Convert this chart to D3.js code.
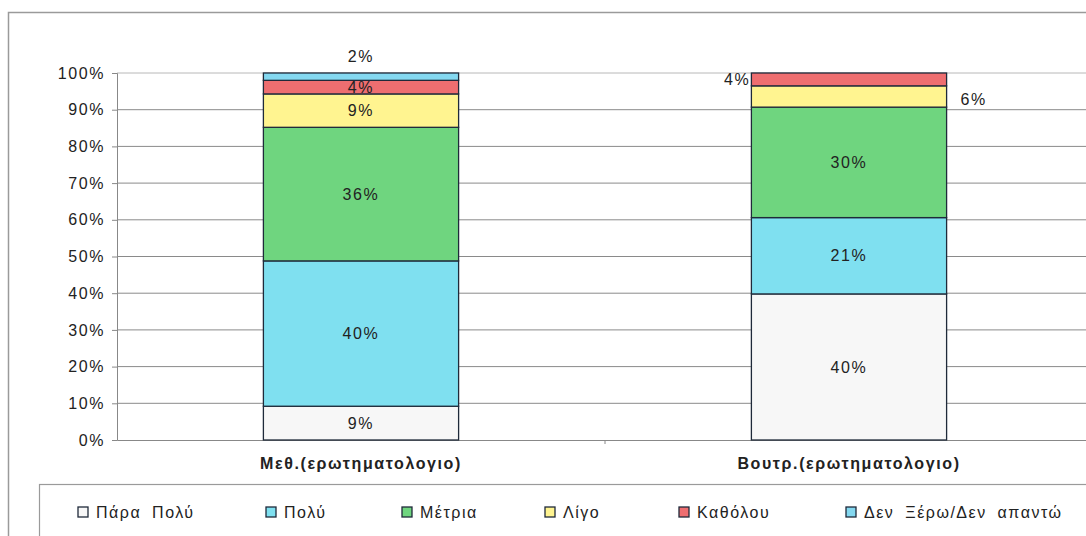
<!DOCTYPE html>
<html>
<head>
<meta charset="utf-8">
<script src="https://cdn.jsdelivr.net/npm/d3@7"></script>
<style>
  body { margin: 0; background: #fff; }
  svg text { font-family: "Liberation Sans", Arial, sans-serif; fill: #222; }
</style>
</head>
<body>
<div id="chart"></div>
<script>
var svgWidth = 1086;
var svgHeight = 536;

// data (share of answers, %)
var categories = ["Μεθ.(ερωτηματολογιο)", "Βουτρ.(ερωτηματολογιο)"];
var seriesNames = ["Πάρα Πολύ", "Πολύ", "Μέτρια", "Λίγο", "Καθόλου", "Δεν Ξέρω/Δεν απαντώ"];
var seriesColors = ["#f7f7f7", "#7fe0f0", "#6fd57f", "#fff490", "#ee6e70", "#84d8f0"];
var metValues = [9.2, 39.6, 36.4, 9.1, 3.7, 2.0];
var voutrValues = [39.8, 20.8, 30.1, 5.8, 3.5, 0];
var yTicks = [0, 10, 20, 30, 40, 50, 60, 70, 80, 90, 100];

var margin = { top: 73, right: -7, bottom: 96, left: 117 };
var width = svgWidth - margin.left - margin.right;
var height = svgHeight - margin.top - margin.bottom;

var svg = d3.select("#chart")
    .append("svg")
    .attr("width", svgWidth)
    .attr("height", svgHeight);

// outer chart frame
svg.append("rect")
    .attr("x", 8.5).attr("y", 12.5)
    .attr("width", 1100).attr("height", 600)
    .attr("fill", "none")
    .attr("stroke", "#9a9a9a")
    .attr("stroke-width", 1.5);

var chartGroup = svg.append("g")
    .attr("transform", `translate(${margin.left}, ${margin.top})`);

var xScale = d3.scaleBand()
    .domain(categories)
    .range([0, width])
    .paddingInner(0.6)
    .paddingOuter(0.3);

var yScale = d3.scaleLinear()
    .domain([0, 100])
    .range([height, 0]);

// gridlines
chartGroup.append("g")
    .selectAll("line")
    .data(yTicks.slice(1))
    .enter()
    .append("line")
    .attr("x1", 0).attr("x2", width)
    .attr("y1", d => yScale(d)).attr("y2", d => yScale(d))
    .attr("stroke", d => d == 100 ? "#b8b8b8" : "#8a8a8a")
    .attr("stroke-width", 1);

// axes
var leftAxis = d3.axisLeft(yScale)
    .tickValues(yTicks)
    .tickFormat(d => d + "%")
    .tickSize(5)
    .tickPadding(7);

var yAxisG = chartGroup.append("g").call(leftAxis);
yAxisG.select(".domain").attr("stroke", "#888");
yAxisG.selectAll(".tick line").attr("stroke", "#888");
yAxisG.selectAll("text")
    .style("font-size", "16px")
    .style("letter-spacing", "1.6px")
    .attr("fill", "#222");

var bottomAxis = d3.axisBottom(xScale).tickSize(0).tickPadding(18);
var xAxisG = chartGroup.append("g")
    .attr("transform", `translate(0, ${height})`)
    .call(bottomAxis);
xAxisG.select(".domain").attr("stroke", "#888");
xAxisG.selectAll("text")
    .style("font-size", "16px")
    .style("font-weight", "bold")
    .style("letter-spacing", "1.6px")
    .attr("fill", "#222");
// middle category separator tick
xAxisG.append("line")
    .attr("x1", width / 2).attr("x2", width / 2)
    .attr("y1", 0).attr("y2", 4)
    .attr("stroke", "#888");

// build stacked segments
var rows = [metValues, voutrValues];
var segments = [];
categories.forEach((cat, ci) => {
    var acc = 0;
    rows[ci].forEach((v, si) => {
        segments.push({ cat: cat, ci: ci, si: si, y0: acc, y1: acc + v, value: v });
        acc += v;
    });
});

chartGroup.selectAll("rect.seg")
    .data(segments.filter(d => d.value > 0))
    .enter()
    .append("rect")
    .attr("class", "seg")
    .attr("x", d => xScale(d.cat))
    .attr("width", xScale.bandwidth())
    .attr("y", d => yScale(d.y1))
    .attr("height", d => yScale(d.y0) - yScale(d.y1))
    .attr("fill", d => seriesColors[d.si])
    .attr("stroke", "#1f2a3a")
    .attr("stroke-width", 1.3);

// value labels
var fmt = v => Math.round(v) + "%";
function labelPos(d) {
    var cx = xScale(d.cat) + xScale.bandwidth() / 2;
    var cy = (yScale(d.y0) + yScale(d.y1)) / 2;
    var anchor = "middle";
    if (d.ci == 0 && d.si == 5) { cy = yScale(100) - 17; }
    if (d.ci == 1 && d.si == 4) { cx = xScale(d.cat) - 1; anchor = "end"; }
    if (d.ci == 1 && d.si == 3) { cx = xScale(d.cat) + xScale.bandwidth() + 14; anchor = "start"; cy += 3; }
    return { x: cx, y: cy, anchor: anchor };
}

chartGroup.selectAll("text.val")
    .data(segments.filter(d => d.value > 0))
    .enter()
    .append("text")
    .attr("class", "val")
    .attr("x", d => labelPos(d).x)
    .attr("y", d => labelPos(d).y)
    .attr("dy", "0.35em")
    .attr("text-anchor", d => labelPos(d).anchor)
    .style("font-size", "16px")
    .style("letter-spacing", "1.6px")
    .text(d => fmt(d.value));

// legend
svg.append("rect")
    .attr("x", 39.5).attr("y", 484.5)
    .attr("width", 1100).attr("height", 80)
    .attr("fill", "none")
    .attr("stroke", "#9a9a9a")
    .attr("stroke-width", 1.2);

var legendX = [78, 266, 402, 545, 679, 846];
var legend = svg.selectAll("g.legend")
    .data(seriesNames)
    .enter()
    .append("g")
    .attr("class", "legend")
    .attr("transform", (d, i) => `translate(${legendX[i]}, 512)`);

legend.append("rect")
    .attr("x", 0).attr("y", -5)
    .attr("width", 10).attr("height", 10)
    .attr("fill", (d, i) => seriesColors[i])
    .attr("stroke", "#1f2a3a")
    .attr("stroke-width", 1.3);

legend.append("text")
    .attr("x", 18)
    .attr("dy", "0.35em")
    .style("font-size", "16px")
    .style("letter-spacing", "1.5px")
    .style("word-spacing", "5px")
    .text(d => d);
</script>
</body>
</html>
